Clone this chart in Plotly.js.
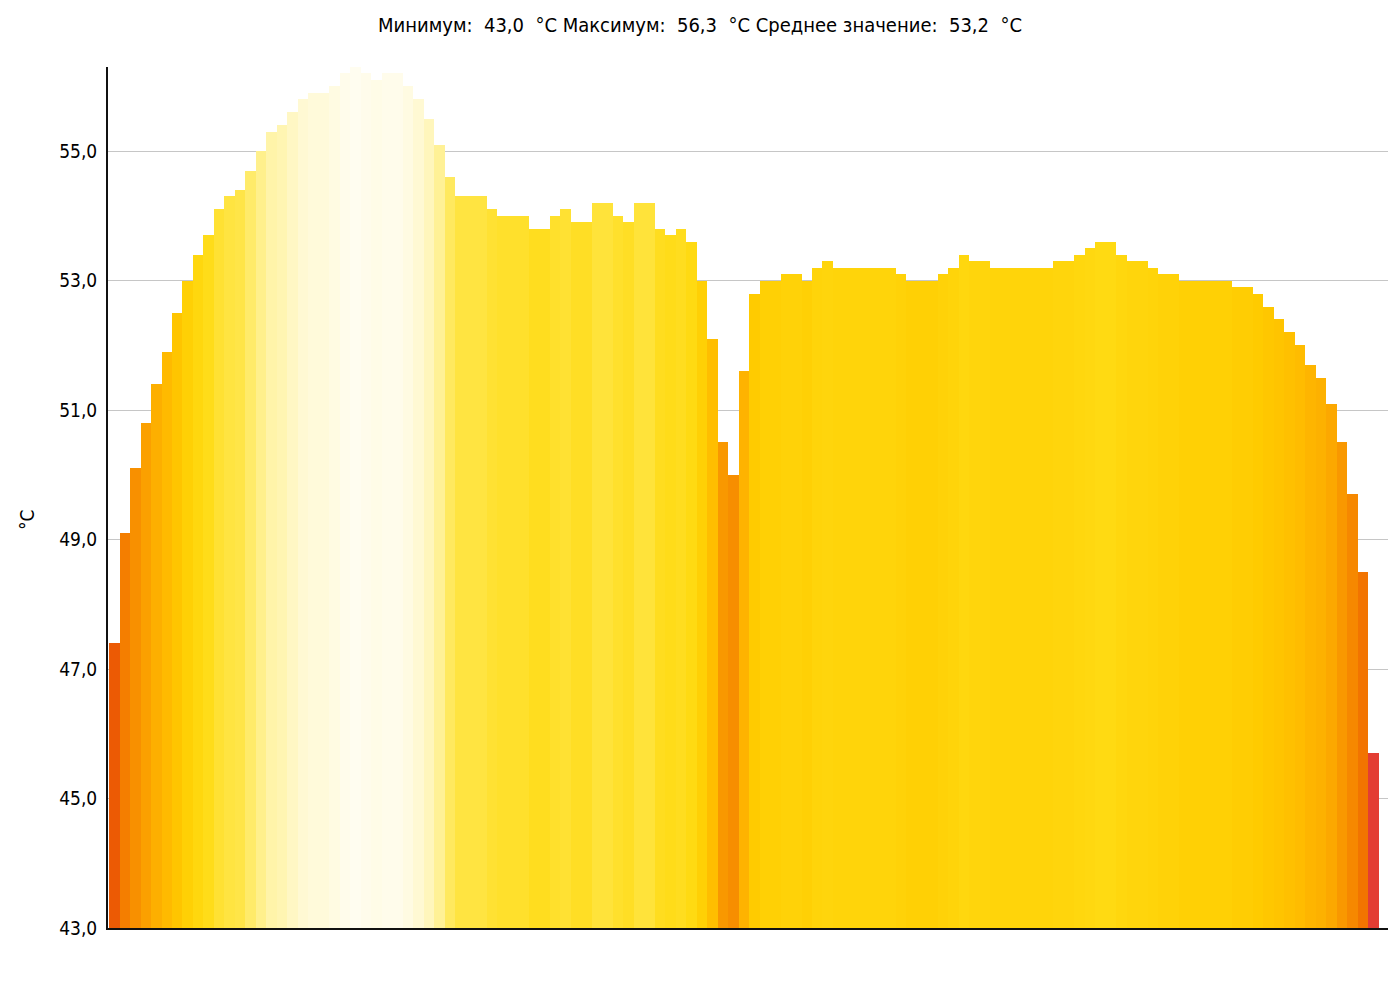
<!DOCTYPE html>
<html>
<head>
<meta charset="utf-8">
<script src="https://cdn.plot.ly/plotly-3.0.1.min.js"></script>
<style>html,body{margin:0;padding:0;background:#fff;}#chart{width:1400px;height:1000px;}</style>
</head>
<body>
<div id="chart"></div>
<script>
// Temperature values per measurement position (°C), read left to right
const temperatures = [
  47.4, 49.1, 50.1, 50.8, 51.4, 51.9, 52.5, 53.0, 53.4, 53.7,
  54.1, 54.3, 54.4, 54.7, 55.0, 55.3, 55.4, 55.6, 55.8, 55.9,
  55.9, 56.0, 56.2, 56.3, 56.2, 56.1, 56.2, 56.2, 56.0, 55.8,
  55.5, 55.1, 54.6, 54.3, 54.3, 54.3, 54.1, 54.0, 54.0, 54.0,
  53.8, 53.8, 54.0, 54.1, 53.9, 53.9, 54.2, 54.2, 54.0, 53.9,
  54.2, 54.2, 53.8, 53.7, 53.8, 53.6, 53.0, 52.1, 50.5, 50.0,
  51.6, 52.8, 53.0, 53.0, 53.1, 53.1, 53.0, 53.2, 53.3, 53.2,
  53.2, 53.2, 53.2, 53.2, 53.2, 53.1, 53.0, 53.0, 53.0, 53.1,
  53.2, 53.4, 53.3, 53.3, 53.2, 53.2, 53.2, 53.2, 53.2, 53.2,
  53.3, 53.3, 53.4, 53.5, 53.6, 53.6, 53.4, 53.3, 53.3, 53.2,
  53.1, 53.1, 53.0, 53.0, 53.0, 53.0, 53.0, 52.9, 52.9, 52.8,
  52.6, 52.4, 52.2, 52.0, 51.7, 51.5, 51.1, 50.5, 49.7, 48.5,
  45.7
];
const positions = temperatures.map((_, i) => i);

const titleText = "Минимум:\u00a0 43,0\u00a0 °C Максимум:\u00a0 56,3\u00a0 °C Среднее значение:\u00a0 53,2\u00a0 °C";
const yAxisTitle = "°C";
const yTickValues = [43, 45, 47, 49, 51, 53, 55];

const yMin = 43.0, yMax = 56.3;

// colour scale: temperature -> colour (thermal palette)
const colourStops = [
  [43.0, '#c41e10'], [45.7, '#e33d33'], [47.4, '#ec5a04'], [48.5, '#f27400'],
  [49.7, '#f68800'], [50.5, '#f99800'], [51.1, '#fca800'], [52.0, '#ffbc00'],
  [52.8, '#ffcb00'], [53.2, '#ffd40a'], [53.6, '#ffda12'], [54.0, '#ffe02c'],
  [54.4, '#ffe548'], [55.0, '#fff08c'], [55.5, '#fff6bc'], [56.0, '#fffbe2'],
  [56.3, '#fffdf0']
];
const colorscale = colourStops.map(s => [(s[0] - yMin) / (yMax - yMin), s[1]]);

const FONT = '"DejaVu Sans Condensed", "DejaVu Sans", Verdana, sans-serif';
const FS = 19;

Plotly.newPlot('chart', [{
  type: 'bar',
  x: positions,
  y: temperatures,
  base: 0,
  marker: {
    color: temperatures,
    colorscale: colorscale,
    cmin: yMin,
    cmax: yMax,
    showscale: false,
    line: {width: 0}
  },
  hoverinfo: 'y'
}], {
  width: 1400,
  height: 1000,
  paper_bgcolor: '#ffffff',
  plot_bgcolor: '#ffffff',
  separators: ', ',
  bargap: 0,
  showlegend: false,
  margin: {l: 108, r: 12, t: 67, b: 72, pad: 0},
  font: {family: FONT, size: FS, color: '#000'},
  title: {
    text: titleText,
    font: {family: FONT, size: 20, color: '#000'},
    x: 0.5, xref: 'container', xanchor: 'center',
    y: 0.975, yref: 'container', yanchor: 'middle'
  },
  xaxis: {
    range: [-0.6, 121.4],
    showticklabels: false,
    ticks: '',
    showgrid: false,
    zeroline: false,
    showline: true,
    linecolor: '#111',
    linewidth: 2,
    fixedrange: true
  },
  yaxis: {
    range: [yMin, yMax],
    tickvals: yTickValues,
    tickformat: '.1f',
    ticks: '',
    ticklabelstandoff: 5,
    showgrid: true,
    gridcolor: '#c6c6c6',
    gridwidth: 1,
    zeroline: false,
    showline: true,
    linecolor: '#111',
    linewidth: 2,
    tickfont: {family: FONT, size: FS, color: '#000'},
    fixedrange: true
  },
  annotations: [{
    text: yAxisTitle,
    xref: 'paper', yref: 'paper',
    x: (27 - 108) / 1280, y: (928 - 520) / 861,
    xanchor: 'center', yanchor: 'middle',
    textangle: -90,
    showarrow: false,
    font: {family: FONT, size: FS, color: '#000'}
  }]
}, {displayModeBar: false, staticPlot: true});
</script>
</body>
</html>
